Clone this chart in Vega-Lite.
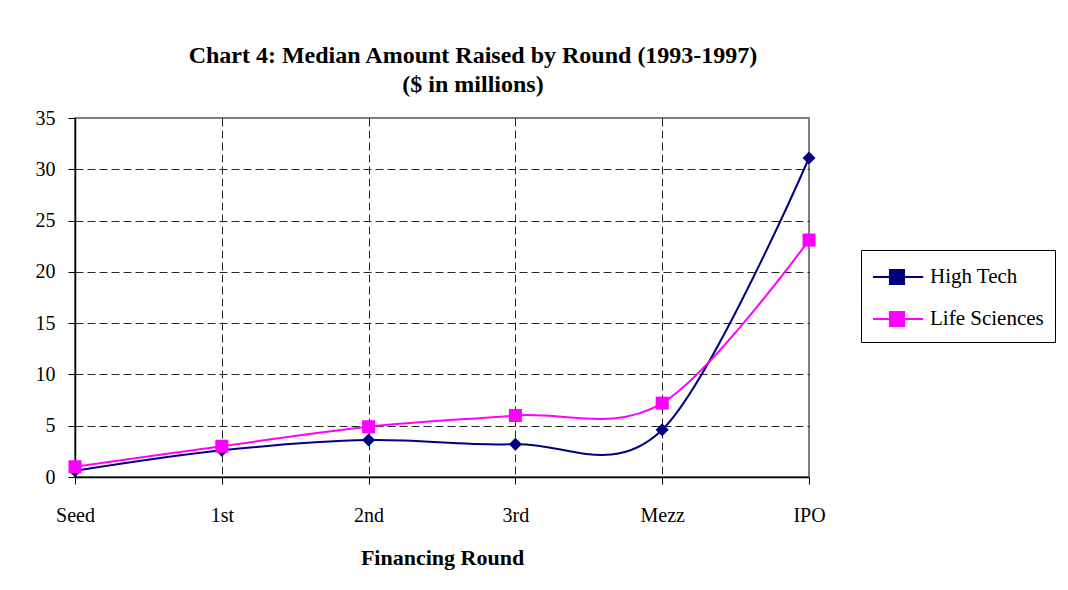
{
  "$schema": "https://vega.github.io/schema/vega-lite/v6.json",
  "width": 734,
  "height": 359,
  "autosize": "none",
  "padding": {"left": 75, "top": 118, "right": 259, "bottom": 113},
  "background": "white",
  "config": {
    "font": "Liberation Serif",
    "view": {"stroke": "#808080", "strokeWidth": 2}
  },
  "title": {
    "text": ["Chart 4: Median Amount Raised by Round (1993-1997)", "($ in millions)"],
    "font": "Liberation Serif",
    "fontSize": 24,
    "fontWeight": "bold",
    "color": "black",
    "anchor": "middle",
    "frame": "group",
    "dx": 31,
    "offset": 11,
    "lineHeight": 29
  },
  "data": {
    "values": [
      {"round": "Seed", "series": "High Tech", "value": 0.6},
      {"round": "1st", "series": "High Tech", "value": 2.6},
      {"round": "2nd", "series": "High Tech", "value": 3.6},
      {"round": "3rd", "series": "High Tech", "value": 3.2},
      {"round": "Mezz", "series": "High Tech", "value": 4.6},
      {"round": "IPO", "series": "High Tech", "value": 31.1},
      {"round": "Seed", "series": "Life Sciences", "value": 1.0},
      {"round": "1st", "series": "Life Sciences", "value": 3.0},
      {"round": "2nd", "series": "Life Sciences", "value": 4.9},
      {"round": "3rd", "series": "Life Sciences", "value": 6.0},
      {"round": "Mezz", "series": "Life Sciences", "value": 7.2},
      {"round": "IPO", "series": "Life Sciences", "value": 23.1}
    ]
  },
  "encoding": {
    "x": {
      "field": "round",
      "type": "ordinal",
      "sort": ["Seed", "1st", "2nd", "3rd", "Mezz", "IPO"],
      "scale": {"type": "point", "padding": 0},
      "axis": {
        "title": "Financing Round",
        "titleFont": "Liberation Serif",
        "titleFontSize": 22,
        "titleFontWeight": "bold",
        "titleColor": "black",
        "titlePadding": 22,
        "labelAngle": 0,
        "labelFont": "Liberation Serif",
        "labelFontSize": 20,
        "labelColor": "black",
        "labelPadding": 21,
        "tickSize": 7,
        "tickColor": "black",
        "domainColor": "black",
        "domainWidth": 1.5,
        "grid": true,
        "gridColor": "black",
        "gridDash": [8, 4],
        "gridWidth": 1,
        "gridOpacity": {"condition": {"test": "datum.value === 'IPO' || datum.value === 'Seed'", "value": 0}, "value": 0.85}
      }
    },
    "y": {
      "field": "value",
      "type": "quantitative",
      "scale": {"domain": [0, 35], "nice": false},
      "axis": {
        "title": null,
        "values": [0, 5, 10, 15, 20, 25, 30, 35],
        "labelFont": "Liberation Serif",
        "labelFontSize": 20,
        "labelColor": "black",
        "labelPadding": 13,
        "tickSize": 7,
        "tickColor": "black",
        "domainColor": "black",
        "domainWidth": 1.5,
        "grid": true,
        "gridColor": "black",
        "gridDash": [8, 4],
        "gridWidth": 1,
        "gridOpacity": {"condition": {"test": "datum.value === 35 || datum.value === 0", "value": 0}, "value": 0.85}
      }
    }
  },
  "layer": [
    {
      "mark": {"type": "line", "interpolate": "cardinal", "strokeWidth": 2},
      "encoding": {
        "color": {
          "field": "series",
          "type": "nominal",
          "scale": {"domain": ["High Tech", "Life Sciences"], "range": ["#000080", "#FF00FF"]},
          "legend": {
            "orient": "none",
            "legendX": 786,
            "legendY": 132,
            "title": null,
            "strokeColor": "black",
            "fillColor": "white",
            "padding": 11,
            "rowPadding": 14,
            "symbolSize": 900,
            "symbolStrokeWidth": 2,
            "symbolOpacity": 1,
            "labelFont": "Liberation Serif",
            "labelFontSize": 21,
            "labelColor": "black",
            "labelOffset": 26,
            "encode": {
              "symbols": {
                "update": {
                  "shape": {"condition": {"test": "datum.index === 0 || datum.value === 'High Tech'", "value": "M-1,0H2.35M0.6,-0.45L1.05,0L0.6,0.45L0.15,0Z"}, "value": "M-1,0H2.35M0.13,-0.47H1.07V0.47H0.13Z"},
                  "fill": {"condition": {"test": "datum.index === 0 || datum.value === 'High Tech'", "value": "#000080"}, "value": "#FF00FF"},
                  "stroke": {"condition": {"test": "datum.index === 0 || datum.value === 'High Tech'", "value": "#000080"}, "value": "#FF00FF"}
                }
              }
            }
          }
        }
      }
    },
    {
      "transform": [{"filter": "datum.series === 'High Tech'"}],
      "mark": {"type": "point", "shape": "diamond", "filled": true, "size": 170, "opacity": 1},
      "encoding": {
        "color": {"field": "series", "type": "nominal", "legend": null}
      }
    },
    {
      "transform": [{"filter": "datum.series === 'Life Sciences'"}],
      "mark": {"type": "point", "shape": "square", "filled": true, "size": 170, "opacity": 1},
      "encoding": {
        "color": {"field": "series", "type": "nominal", "legend": null}
      }
    }
  ]
}
